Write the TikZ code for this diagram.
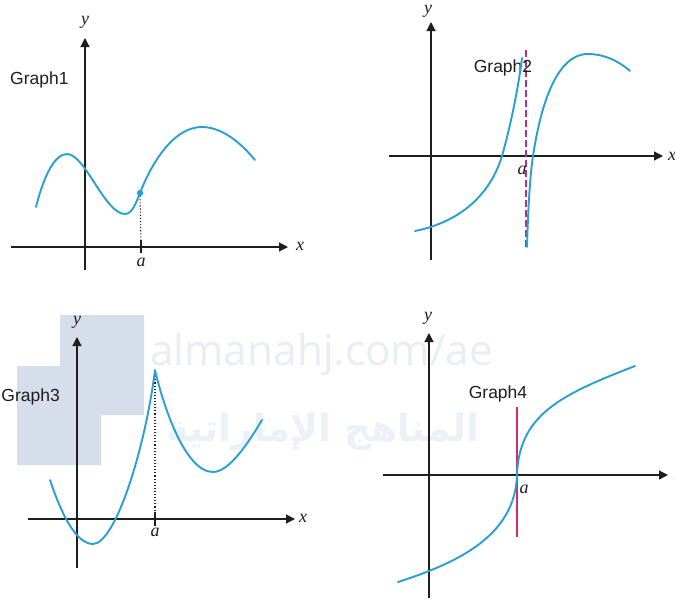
\documentclass[tikz,border=0pt]{standalone}
\usepackage{fontspec}
\usepackage{graphicx}
\setmainfont{Liberation Serif}
\newfontfamily\lsans{Liberation Sans}
\newfontfamily\wmfont{Open Sans}
\newfontfamily\arabicfont[Script=Arabic]{DejaVu Sans}
\TeXXeTstate=1
\usetikzlibrary{arrows.meta}
\definecolor{curveblue}{RGB}{40,160,212}
\definecolor{axiscol}{RGB}{30,30,30}
\definecolor{asym}{RGB}{170,50,140}
\definecolor{vline}{RGB}{205,45,115}
\definecolor{wmblock}{RGB}{214,221,235}
\definecolor{wmtext}{RGB}{233,237,245}
\definecolor{wmarab}{RGB}{236,240,247}
\begin{document}
\begin{tikzpicture}[x=1pt,y=-1pt,
  axisline/.style={draw=axiscol, line width=1.2pt, -{Triangle[length=9pt,width=9pt]}},
  ticksty/.style={draw=axiscol, line width=1.2pt},
  curvesty/.style={draw=curveblue, line width=1.9pt, line cap=round, line join=round},
  guide/.style={draw=axiscol, line width=1.1pt, dotted},
  lbl/.style={font=\fontsize{18}{20}\selectfont\itshape, text=axiscol, inner sep=0pt},
  titlesty/.style={font=\lsans\fontsize{17.5}{20}\selectfont, text=axiscol, inner sep=0pt}]
\useasboundingbox (0,0) rectangle (675,603);
\fill[white] (0,0) rectangle (675,603);

% watermark
\fill[wmblock] (60,315) -- (144,315) -- (144,415) -- (101,415) -- (101,465) -- (17,465) -- (17,366) -- (60,366) -- cycle;
\node[anchor=base west, inner sep=0pt, text=wmtext] (wm1) at (150,365) {\resizebox{343pt}{!}{\wmfont almanahj.com/ae}};
\node[inner sep=0pt, text=wmarab] (wm2) at (323,432) {\resizebox{313pt}{!}{\arabicfont\bfseries\beginR المناهج الإماراتية\endR}};

% ---------------- Graph 1 ----------------
\coordinate (g1xs) at (11,247);  \coordinate (g1xe) at (288,247);
\coordinate (g1ys) at (85,270);  \coordinate (g1ye) at (85,38);
\draw[axisline] (g1xs) -- (g1xe);
\draw[axisline] (g1ys) -- (g1ye);
\node[lbl] (g1y) at (85,22) {y};
\node[lbl] (g1x) at (300,246) {x};
\coordinate (g1ta) at (141,240); \coordinate (g1tb) at (141,253);
\draw[ticksty] (g1ta) -- (g1tb);
\node[lbl] (g1a) at (141,262) {a};
\node[titlesty, anchor=west] (g1t) at (10,80) {Graph1};
\coordinate (g1p) at (140,193);
\coordinate (g1f) at (141,247);
\draw[guide] (g1p) -- (g1f);
\draw[curvesty] (36,207) .. controls (44,175) and (55,154) .. (67,154)
  .. controls (85,154) and (105,214) .. (125,214)
  .. controls (132,214) and (136,203) .. (g1p)
  .. controls (148,172) and (170,127) .. (202,127)
  .. controls (225,127) and (245,148) .. (255,160);
\fill[curveblue] (g1p) circle (3.2pt);

% ---------------- Graph 2 ----------------
\coordinate (g2xs) at (389,156); \coordinate (g2xe) at (663,156);
\coordinate (g2ys) at (431,260); \coordinate (g2ye) at (431,22);
\draw[axisline] (g2xs) -- (g2xe);
\draw[axisline] (g2ys) -- (g2ye);
\node[lbl] (g2y) at (428,11) {y};
\node[lbl] (g2x) at (672,156) {x};
\coordinate (g2la) at (526,50); \coordinate (g2lb) at (526,247);
\draw[asym, line width=1.5pt, dash pattern=on 7pt off 3pt] (g2la) -- (g2lb);
\node[lbl] (g2a) at (522,170) {a};
\node[titlesty] (g2t) at (503,68) {Graph2};
\draw[curvesty] (415,231) .. controls (460,222) and (490,195) .. (502,156)
  .. controls (510,128) and (518,90) .. (522,58);
\draw[curvesty] (527,247) .. controls (528,210) and (530,175) .. (533,156)
  .. controls (540,110) and (555,54) .. (588,54)
  .. controls (605,54) and (620,62) .. (630,71);

% ---------------- Graph 3 ----------------
\coordinate (g3xs) at (28,519);  \coordinate (g3xe) at (295,519);
\coordinate (g3ys) at (77,568);  \coordinate (g3ye) at (77,337);
\draw[axisline] (g3xs) -- (g3xe);
\draw[axisline] (g3ys) -- (g3ye);
\node[lbl] (g3y) at (77,322) {y};
\node[lbl] (g3x) at (303,518) {x};
\coordinate (g3ta) at (155,512); \coordinate (g3tb) at (155,526);
\draw[ticksty] (g3ta) -- (g3tb);
\node[lbl] (g3a) at (155,532) {a};
\node[titlesty, anchor=east] (g3t) at (60,397) {Graph3};
\coordinate (g3p) at (155,370);
\coordinate (g3f) at (155,519);
\draw[guide] (g3p) -- (g3f);
\draw[curvesty] (50,480) .. controls (60,510) and (75,544) .. (93,544)
  .. controls (115,544) and (145,450) .. (g3p)
  .. controls (163,405) and (185,472) .. (213,472)
  .. controls (230,472) and (250,440) .. (262,420);

% ---------------- Graph 4 ----------------
\coordinate (g4xs) at (383,475); \coordinate (g4xe) at (668,475);
\coordinate (g4ys) at (429,598); \coordinate (g4ye) at (429,333);
\draw[axisline] (g4xs) -- (g4xe);
\draw[axisline] (g4ys) -- (g4ye);
\node[lbl] (g4y) at (428,318) {y};
\node[lbl] (g4x) at (679,475) {x};
\coordinate (g4la) at (517,407); \coordinate (g4lb) at (517,537);
\draw[vline, line width=1.5pt] (g4la) -- (g4lb);
\node[lbl] (g4a) at (524,489) {a};
\node[titlesty] (g4t) at (498,394) {Graph4};
\draw[curvesty] (398,582) .. controls (460,562) and (515,535) .. (517,475)
  .. controls (519,415) and (560,395) .. (635,366);
\end{tikzpicture}
\end{document}
